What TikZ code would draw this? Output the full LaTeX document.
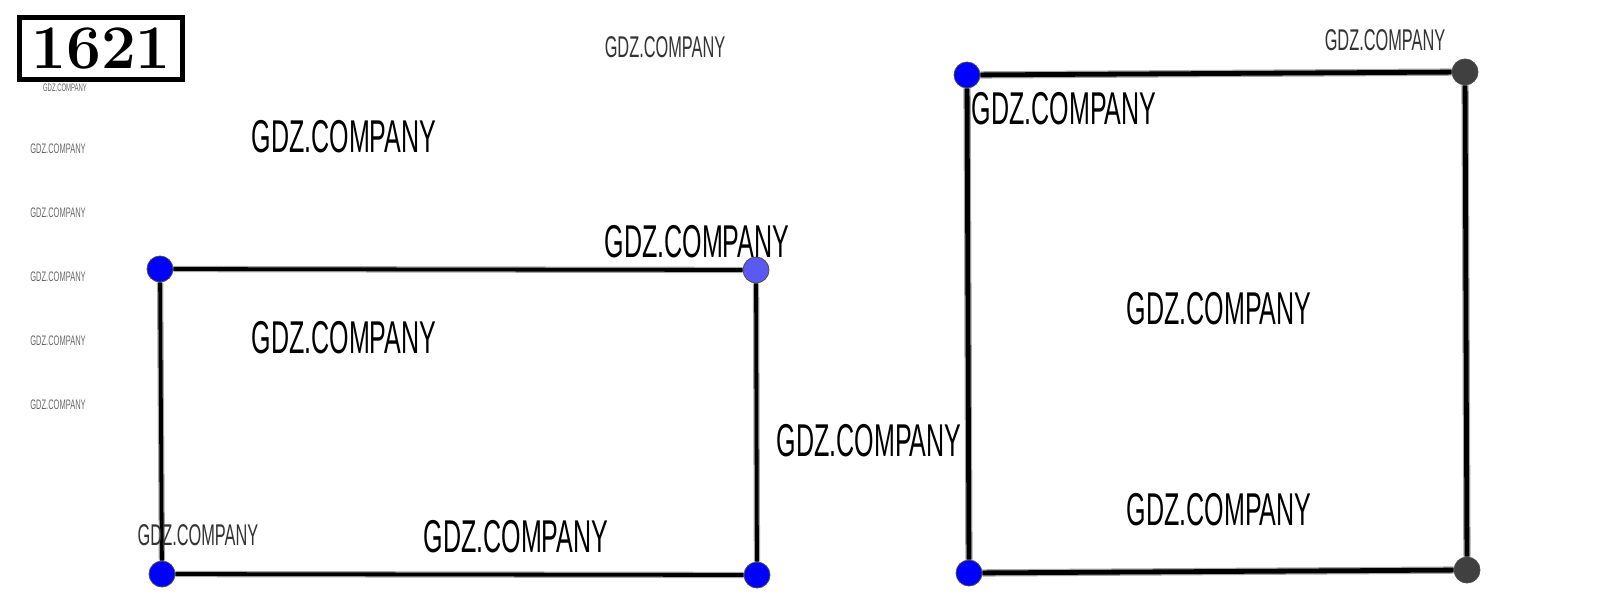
\documentclass[tikz,border=0pt]{standalone}
\usepackage{fontspec}
\usepackage{graphicx}
\setmainfont{Liberation Sans}
\newfontfamily\digitfont{Latin Modern Roman}
\usepackage{tikz}
\usetikzlibrary{calc}

\definecolor{dotblue}{RGB}{0,0,255}
\definecolor{dotpale}{RGB}{90,90,240}
\definecolor{dotgrey}{RGB}{64,64,64}
\newcommand{\gdz}{\scalebox{0.545}[1]{GDZ.COMPANY}}
\tikzset{
  pt/.style={shape=circle,inner sep=0pt,minimum size=26pt,draw=black!70,line width=0.8pt,fill=#1},
  side/.style={line width=#1,black,preaction={draw,black!35,line width=#1+2.5pt}},
  wmbig/.style={inner sep=0pt,font=\fontsize{46}{48}\selectfont},
  wmmid/.style={inner sep=0pt,text=black!80,font=\fontsize{30}{32}\selectfont},
  wmsmall/.style={inner sep=0pt,text=black!60,font=\fontsize{13.8}{15}\selectfont},
  wmtiny/.style={inner sep=0pt,text=black!60,font=\fontsize{10.9}{12}\selectfont}
}

\begin{document}
\begin{tikzpicture}[x=1pt,y=-1pt]
          \useasboundingbox (0,0) rectangle (1605,602);
          \node[draw,line width=5pt,minimum width=163pt,minimum height=62pt,inner sep=0pt,
                font=\digitfont\fontsize{62}{64}\selectfont\bfseries] (num) at (101,48.5) {1621};
          % left rectangle
          \node[pt=dotblue] (A) at (160,269) {};
          \node[pt=dotpale] (B) at (756,270) {};
          \node[pt=dotblue] (C) at (757,575) {};
          \node[pt=dotblue] (D) at (162,574) {};
          \draw[side=3.8pt] (A)--(B);
          \draw[side=3.8pt] (B)--(C);
          \draw[side=3.8pt] (C)--(D);
          \draw[side=3.8pt] (D)--(A);
          % right square
          \node[pt=dotblue] (E) at (967,75) {};
          \node[pt=dotgrey] (F) at (1465,72) {};
          \node[pt=dotgrey] (G) at (1467,570) {};
          \node[pt=dotblue] (H) at (969,573) {};
          \draw[side=4.8pt] (E)--(F);
          \draw[side=4.8pt] (F)--(G);
          \draw[side=4.8pt] (G)--(H);
          \draw[side=4.8pt] (H)--(E);
          % watermarks
          \node[wmtiny] (w0) at (65,88) {\gdz};
          \foreach \yy [count=\i] in {149,213,277,341,405}
            \node[wmsmall] (s\i) at (58,\yy) {\gdz};
          \node[wmmid] (m1) at (665,47) {\gdz};
          \node[wmmid] (m2) at (1385,40) {\gdz};
          \node[wmmid] (m3) at (198,535) {\gdz};
          \node[wmbig] (b1) at (344,137) {\gdz};
          \node[wmbig] (b2) at (697,242) {\gdz};
          \node[wmbig] (b3) at (344,338) {\gdz};
          \node[wmbig] (b4) at (869,441) {\gdz};
          \node[wmbig] (b5) at (516,537) {\gdz};
          \node[wmbig] (b6) at (1064,109) {\gdz};
          \node[wmbig] (b7) at (1219,309) {\gdz};
          \node[wmbig] (b8) at (1219,510) {\gdz};
        \end{tikzpicture}
\end{document}
